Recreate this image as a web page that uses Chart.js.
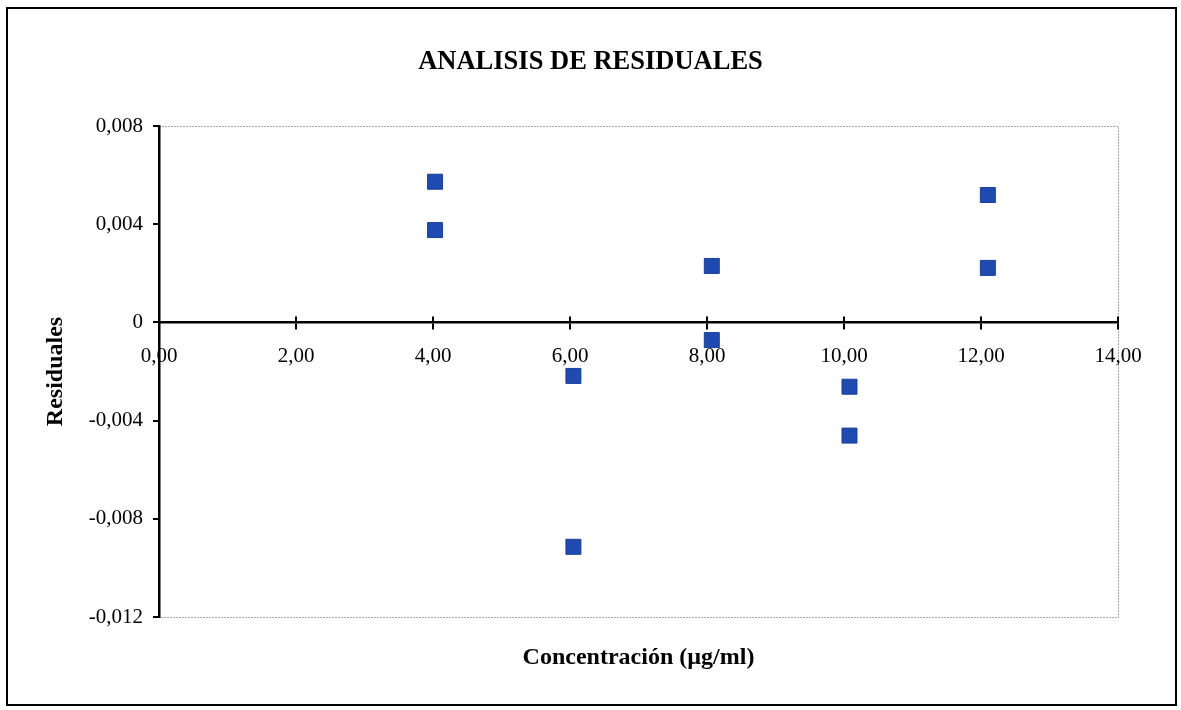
<!DOCTYPE html>
<html>
<head>
<meta charset="utf-8">
<script src="https://cdn.jsdelivr.net/npm/chart.js@4/dist/chart.umd.min.js"></script>
<style>
  html, body { margin: 0; padding: 0; background: #ffffff; }
  canvas { display: block; }
</style>
</head>
<body>
<canvas id="c" width="1181" height="710"></canvas>
<script>
// ---- data ----
const concentrations = [4.03, 4.03, 6.05, 6.05, 8.07, 8.07, 10.08, 10.08, 12.10, 12.10];
const residuals = [0.00573, 0.00376, -0.00218, -0.00914, 0.00230, -0.00072, -0.00262, -0.00461, 0.00519, 0.00222];
const xTickValues = [0, 2, 4, 6, 8, 10, 12, 14];
const yTickValues = [-0.012, -0.008, -0.004, 0, 0.004, 0.008];
const chartTitle = 'ANALISIS DE RESIDUALES';
const xTitle = 'Concentración (µg/ml)';
const yTitle = 'Residuales';

const points = concentrations.map((x, i) => ({ x: x, y: residuals[i] }));
const FONT = "'Liberation Serif', 'Times New Roman', serif";

const fmtX = v => Number(v).toFixed(2).replace('.', ',');
const fmtY = v => Math.abs(v) < 1e-10 ? '0' : Number(v).toFixed(3).replace('.', ',');

const decorPlugin = {
  id: 'decor',
  beforeDraw(chart) {
    const ctx = chart.ctx;
    ctx.save();
    ctx.fillStyle = '#ffffff';
    ctx.fillRect(0, 0, chart.width, chart.height);
    // outer frame
    ctx.strokeStyle = '#000000';
    ctx.lineWidth = 2;
    ctx.strokeRect(7, 8, 1169, 697);
    // plot area border (gray dotted)
    const a = chart.chartArea;
    ctx.strokeStyle = '#a8a8a8';
    ctx.lineWidth = 1;
    ctx.setLineDash([2, 1]);
    ctx.beginPath();
    ctx.moveTo(a.left, a.top + 0.5);
    ctx.lineTo(a.right + 0.5, a.top + 0.5);
    ctx.lineTo(a.right + 0.5, a.bottom + 0.5);
    ctx.lineTo(a.left, a.bottom + 0.5);
    ctx.stroke();
    ctx.restore();
  },
  afterDraw(chart) {
    // upper half of cross tick marks on the x axis
    const xs = chart.scales.x, ys = chart.scales.y;
    const y0 = ys.getPixelForValue(0);
    const ctx = chart.ctx;
    ctx.save();
    ctx.strokeStyle = '#000000';
    ctx.lineWidth = 2;
    xs.ticks.forEach(t => {
      const px = Math.round(xs.getPixelForValue(t.value));
      ctx.beginPath();
      ctx.moveTo(px, y0 - 6);
      ctx.lineTo(px, y0);
      ctx.stroke();
    });
    ctx.restore();
  }
};

new Chart(document.getElementById('c'), {
  type: 'scatter',
  data: {
    datasets: [{
      label: 'Residuales',
      data: points,
      pointStyle: 'rect',
      pointRadius: 10.6,
      pointHoverRadius: 10.6,
      backgroundColor: '#1f4ab0',
      borderColor: '#1a3f98',
      borderWidth: 1
    }]
  },
  options: {
    responsive: false,
    animation: false,
    devicePixelRatio: 1,
    layout: { padding: { left: 63, right: 63, top: 8, bottom: 6 } },
    plugins: {
      legend: { display: false },
      tooltip: { enabled: false },
      title: {
        display: true,
        text: chartTitle,
        color: '#000000',
        font: { family: FONT, size: 26.5, weight: 'bold', lineHeight: 1.2 },
        padding: { top: 38, bottom: 48.2 }
      }
    },
    scales: {
      x: {
        type: 'linear',
        position: { y: 0 },
        min: 0, max: 14,
        afterBuildTicks: s => { s.ticks = xTickValues.map(v => ({ value: v })); },
        ticks: {
          color: '#000000',
          padding: 15,
          maxRotation: 0,
          font: { family: FONT, size: 21 },
          callback: v => fmtX(v)
        },
        grid: { display: true, drawOnChartArea: false, drawTicks: true, tickLength: 6, color: '#000000', lineWidth: 2 },
        border: { display: true, color: '#000000', width: 2.5 }
      },
      x2: {
        type: 'linear',
        axis: 'x',
        position: 'bottom',
        min: 0, max: 14,
        ticks: { display: false },
        grid: { display: false },
        border: { display: false },
        title: {
          display: true,
          text: xTitle,
          color: '#000000',
          font: { family: FONT, size: 24, weight: 'bold', lineHeight: 1.2 },
          padding: { top: 18.6, bottom: 31.6 }
        }
      },
      y: {
        type: 'linear',
        position: 'left',
        min: -0.012, max: 0.008,
        afterBuildTicks: s => { s.ticks = yTickValues.map(v => ({ value: v })); },
        afterFit: s => { s.width = 96; },
        ticks: {
          color: '#000000',
          padding: 10,
          font: { family: FONT, size: 21 },
          callback: v => fmtY(v)
        },
        grid: { display: true, drawOnChartArea: false, drawTicks: true, tickLength: 6, color: '#000000', lineWidth: 2 },
        border: { display: true, color: '#000000', width: 2.5 },
        title: {
          display: true,
          text: yTitle,
          color: '#000000',
          font: { family: FONT, size: 24, weight: 'bold', lineHeight: 1.2 },
          padding: { top: -21.4, bottom: 0 }
        }
      }
    }
  },
  plugins: [decorPlugin]
});
</script>
</body>
</html>
